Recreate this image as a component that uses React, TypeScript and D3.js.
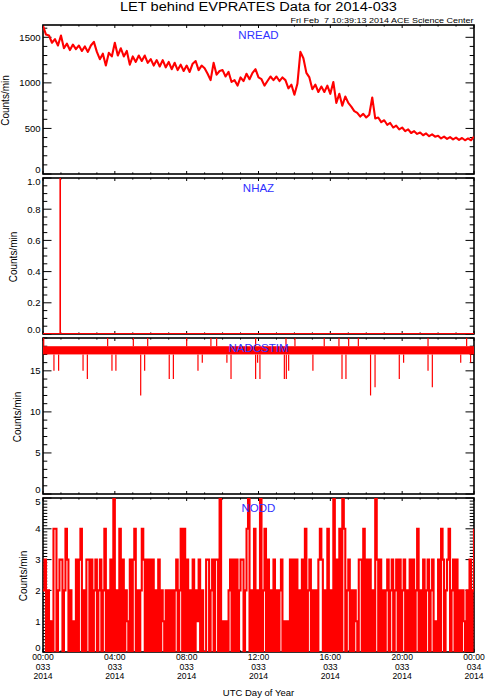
import * as d3 from "d3";

// x axis: hours of day 2014-033 (UTC)
const xTickHours = [0, 4, 8, 12, 16, 20, 24];
const xTickTimes = ["00:00", "04:00", "08:00", "12:00", "16:00", "20:00", "00:00"];
const xTickDays = ["033", "033", "033", "033", "033", "033", "034"];
const xTickYears = ["2014", "2014", "2014", "2014", "2014", "2014", "2014"];

// NREAD counts/min, one sample every 10 minutes
const nread = [
  1625, 1530, 1520, 1440, 1480, 1410,
  1520, 1380, 1430, 1360, 1420, 1370,
  1410, 1350, 1400, 1340, 1410, 1450,
  1340, 1260, 1320, 1190, 1330, 1290,
  1440, 1300, 1380, 1290, 1350, 1200,
  1290, 1230, 1300, 1240, 1300, 1220,
  1260, 1190, 1250, 1180, 1250, 1170,
  1230, 1150, 1220, 1140, 1200, 1130,
  1190, 1120, 1210, 1240, 1140, 1190,
  1160, 1100, 1030, 1220, 1090, 1130,
  1140, 1070, 1120, 1010, 1030, 970,
  1060, 1020, 1100, 1040, 1110, 1150,
  1060, 1040, 970, 1020, 1070, 1030,
  1070, 1020, 1060, 1030, 940, 980,
  870, 990, 1340, 1270, 1110, 1060,
  930, 980, 900, 960, 900, 970,
  880, 1010, 780, 880, 750, 850,
  780, 740, 690, 670, 630, 660,
  620, 650, 840, 610, 620, 570,
  590, 540, 560, 510, 530, 490,
  510, 470, 490, 450, 470, 440,
  455, 425, 445, 415, 435, 410,
  420, 390, 410, 385, 405, 380,
  400, 375, 395, 370, 390, 370,
  410,
];

// NHAZ: zero all day except one count near 00:57
const nhazHitHour = [0.95];
const nhazHitValue = [1];

// NADCSTIM: alternates 17/18, with single-minute excursions
const nadcBase = [17, 18];
const nadcUpHours = [0.04, 3.6, 5.03, 5.83, 8.0, 9.35, 9.67, 11.84, 13.53, 14.03, 15.66, 16.48, 17.02, 17.56, 21.44, 23.59];
const nadcUpValue = 19;
const nadcDipHours = [0.61, 0.87, 2.23, 2.47, 3.84, 4.06, 5.44, 5.66, 7.03, 7.26, 8.63, 8.87, 10.24, 10.47, 11.84, 11.95, 12.08, 13.44, 13.55, 13.68, 15.03, 16.65, 16.87, 18.24, 18.49, 19.84, 20.08, 21.44, 21.68, 23.26, 23.81];
const nadcDipValues = [15, 15, 15, 14, 15, 15, 12, 15, 14, 14, 15, 16, 16, 14, 14, 16, 14, 14, 14, 15, 15, 14, 14, 12, 13, 14, 16, 15, 13, 16, 16];

// NODD counts/min, one value every 5 minutes, one row per hour
const noddRows = [
  "230201044023", "302430201030", "340203303023", "023024020305",
  "020403021030", "340202430303", "030203021020", "202023024040",
  "302030213020", "033023033050", "101023030302", "330245020402",
  "050240302030", "202301010303", "030203040230", "202034302040",
  "205030405402", "302021033040", "303020530302", "023023023030",
  "230203030240", "203023023010", "304302340230", "302021020302",
  "4",
];
const nodd = noddRows.join("").split("").map(Number);

const W = 487;
const H = 700;
const left = 43;
const right = 474;
const FONT = "Liberation Sans, Arial, sans-serif";
const RED = "#ff0000";
const BLUE = "#3030ff";

const x = d3.scaleLinear().domain([0, 24]).range([left, right]);

interface PanelSpec {
  name: string;
  top: number;
  bottom: number;
  max: number;
  major: number;
  minor: number;
  fmt: (v: number) => string;
  titleX: number;
}

const panels: PanelSpec[] = [
  { name: "NREAD", top: 25, bottom: 174, max: 1635, major: 500, minor: 100, fmt: d3.format("d"), titleX: 9.3 },
  { name: "NHAZ", top: 178, bottom: 334, max: 1, major: 0.2, minor: 0.05, fmt: d3.format(".1f"), titleX: 17.3 },
  { name: "NADCSTIM", top: 338, bottom: 494, max: 19, major: 5, minor: 1, fmt: d3.format("d"), titleX: 20.7 },
  { name: "NODD", top: 498, bottom: 652, max: 5, major: 1, minor: 0.1, fmt: d3.format("d"), titleX: 26.7 },
];

function yScale(p: PanelSpec) {
  return d3.scaleLinear().domain([0, p.max]).range([p.bottom, p.top]);
}

function Frame({ p, idx }: { p: PanelSpec; idx: number }) {
  const y = yScale(p);
  const minorY = d3.range(0, p.max + 1e-9, p.minor);
  const majorY = d3.range(0, p.max + 1e-9, p.major);
  const minorX = d3.range(0, 24.001, 1);
  const isMajor = (v: number) => Math.abs(v / p.major - Math.round(v / p.major)) < 1e-6;
  return (
    <g>
      <rect x={left} y={p.top} width={right - left} height={p.bottom - p.top} fill="none" stroke="#000" strokeWidth={1.6} />
      {minorY.map((v, i) => {
        const len = isMajor(v) ? 8.5 : 4.3;
        return (
          <g key={"y" + i}>
            <line x1={left} x2={left + len} y1={y(v)} y2={y(v)} stroke="#000" strokeWidth={1} />
            <line x1={right} x2={right - len} y1={y(v)} y2={y(v)} stroke="#000" strokeWidth={1} />
          </g>
        );
      })}
      {minorX.map((h, i) => {
        const len = h % 4 === 0 ? 3 : 1.6;
        return (
          <g key={"x" + i}>
            <line x1={x(h)} x2={x(h)} y1={p.bottom} y2={p.bottom - len} stroke="#000" strokeWidth={1} />
            <line x1={x(h)} x2={x(h)} y1={p.top} y2={p.top + len} stroke="#000" strokeWidth={1} />
          </g>
        );
      })}
      {majorY.map((v, i) => {
        let yy = y(v);
        if (Math.abs(yy - p.bottom) < 1) yy -= 4;
        else if (Math.abs(yy - p.top) < 1) yy += 4;
        return (
          <text key={"l" + i} x={40.5} y={yy} dy="0.36em" textAnchor="end" fontSize={9.5} fontFamily={FONT} fill="#000">
            {p.fmt(v)}
          </text>
        );
      })}
      <text
        transform={`translate(${p.titleX},${(p.top + p.bottom) / 2 + 1}) rotate(-90)`}
        textAnchor="middle"
        fontSize={10}
        fontFamily={FONT}
        fill="#000"
      >
        Counts/min
      </text>
      <clipPath id={"clip" + idx}>
        <rect x={left} y={p.top} width={right - left} height={p.bottom - p.top} />
      </clipPath>
    </g>
  );
}

export default function App() {
  const [pRead, pHaz, pAdc, pOdd] = panels;

  const yRead = yScale(pRead);
  const readLine = d3
    .line<number>()
    .x((_, i) => x((i * 10) / 60))
    .y((v) => yRead(v))(nread) as string;

  const yHaz = yScale(pHaz);
  const hazPts: [number, number][] = [[0, 0]];
  nhazHitHour.forEach((h, i) => {
    hazPts.push([h, nhazHitValue[i]]);
    hazPts.push([h + 1 / 60, 0]);
  });
  hazPts.push([24, 0]);
  const hazLine = d3
    .line<[number, number]>()
    .x((d) => x(d[0]))
    .y((d) => yHaz(d[1]))
    .curve(d3.curveStepAfter)(hazPts) as string;

  const yAdc = yScale(pAdc);

  const yOdd = yScale(pOdd);
  const oddLine = d3
    .line<number>()
    .x((_, i) => x((i * 5) / 60))
    .y((v) => yOdd(v))
    .curve(d3.curveStepAfter)(nodd) as string;

  return (
    <svg width={W} height={H} style={{ position: "absolute", left: 0, top: 0, background: "#fff" }}>
      <rect width={W} height={H} fill="#fff" />
      <text x={258.5} y={10.5} textAnchor="middle" fontSize={12} fontFamily={FONT} fill="#000" textLength={277} lengthAdjust="spacingAndGlyphs">
        LET behind EVPRATES Data for 2014-033
      </text>
      <text x={473.5} y={22.7} textAnchor="end" fontSize={7} fontFamily={FONT} fill="#000" textLength={183} lengthAdjust="spacingAndGlyphs" style={{ whiteSpace: "pre" }}>
        {"Fri Feb  7 10:39:13 2014 ACE Science Center"}
      </text>

      {panels.map((p, i) => (
        <Frame key={p.name} p={p} idx={i} />
      ))}

      <g clipPath="url(#clip0)">
        <path d={readLine} fill="none" stroke={RED} strokeWidth={2.1} strokeLinejoin="round" />
      </g>
      <g clipPath="url(#clip1)">
        <path d={hazLine} fill="none" stroke={RED} strokeWidth={1.3} transform="translate(0,-0.4)" />
      </g>
      <g clipPath="url(#clip2)">
        <rect x={x(0)} y={yAdc(nadcBase[1])} width={x(24) - x(0)} height={yAdc(nadcBase[0]) - yAdc(nadcBase[1])} fill={RED} />
        {nadcUpHours.map((h, i) => (
          <line key={"u" + i} x1={x(h)} x2={x(h)} y1={yAdc(nadcBase[1])} y2={yAdc(nadcUpValue)} stroke={RED} strokeWidth={1.2} />
        ))}
        {nadcDipHours.map((h, i) => (
          <line key={"d" + i} x1={x(h)} x2={x(h)} y1={yAdc(nadcBase[0])} y2={yAdc(nadcDipValues[i])} stroke={RED} strokeWidth={1.2} />
        ))}
      </g>
      <g clipPath="url(#clip3)">
        <path d={oddLine} fill="none" stroke={RED} strokeWidth={2.1} />
      </g>

      {panels.map((p) => (
        <text key={"n" + p.name} x={258.5} y={p.top + 14.3} textAnchor="middle" fontSize={11.5} fontFamily={FONT} fill={BLUE}>
          {p.name}
        </text>
      ))}

      {xTickHours.map((h, i) => (
        <g key={"xl" + i} fontSize={8.6} fontFamily={FONT} fill="#000" textAnchor="middle">
          <text x={x(h)} y={660}>{xTickTimes[i]}</text>
          <text x={x(h)} y={669.6}>{xTickDays[i]}</text>
          <text x={x(h)} y={678.8}>{xTickYears[i]}</text>
        </g>
      ))}
      <text x={258.5} y={696} textAnchor="middle" fontSize={9.5} fontFamily={FONT} fill="#000">
        UTC Day of Year
      </text>
    </svg>
  );
}
